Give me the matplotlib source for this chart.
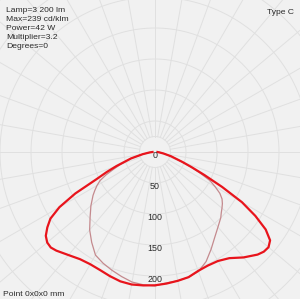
import numpy as np
import matplotlib
matplotlib.use("Agg")
import matplotlib.pyplot as plt

# ---- data (cd/klm) ----
angles = [0, 5, 10, 15, 20, 25, 30, 35, 40, 45, 47.5, 50, 52.5, 55, 57.5, 60, 62.5, 65, 67.5, 70, 75, 80, 85, 90]
c0_left = [215, 216, 217, 216, 213, 210, 209, 211, 217, 225, 228, 227, 222, 212, 200, 178, 145, 105, 84, 66, 40, 20, 9, 4]
c0_right = [213, 213, 211, 209, 204, 202, 203, 209, 222, 234, 238, 239, 234, 218, 192, 162, 122, 88, 64, 47, 27, 14, 7, 4]
c90_left = [216, 215, 213, 208, 203, 198, 192, 178, 164, 148, 141, 135, 128, 122, 115, 108, 100, 87, 72, 60, 40, 20, 9, 4]
c90_right = [213, 212, 211, 209, 205, 195, 181, 168, 158, 150, 145, 141, 137, 132, 124, 112, 100, 80, 62, 47, 27, 14, 7, 4]
ring_values = [0, 50, 100, 150, 200]
info_lines = ["Lamp=3 200 lm", "Max=239 cd/klm", "Power=42 W", "Multiplier=3.2", "Degrees=0"]

BG = "#f1f1f1"
GRID = "#e0e0e0"
TXT = "#2a2a2a"
FONT = "Liberation Sans"
W, H = 300, 299
DPI = 100
fig = plt.figure(figsize=(W / DPI, H / DPI), dpi=DPI, facecolor=BG)

cx, cy = 155, 152          # centre in px (from top)
scale = 0.62               # px per cd/klm
R = 220                    # px radius of polar axes
rmax = R / scale
ax = fig.add_axes([(cx - R) / W, (H - cy - R) / H, 2 * R / W, 2 * R / H], projection="polar")
ax.set_facecolor(BG)
ax.set_theta_zero_location("S")
ax.set_theta_direction(1)
ax.set_ylim(0, rmax)
ax.grid(False)
ax.set_xticks([])
ax.set_yticks([])
ax.spines["polar"].set_visible(False)

# grid
th = np.linspace(0, 2 * np.pi, 400)
for rv in [25, 50, 100, 150, 200, 250, 300, 350]:
    ax.plot(th, np.full_like(th, rv), color=GRID, lw=0.7, zorder=1)
for a in range(0, 360, 10):
    ax.plot([np.deg2rad(a)] * 2, [25, rmax], color=GRID, lw=0.7, zorder=1)

def full_curve(left, right):
    a = np.array(angles, dtype=float)
    t = np.concatenate([-a[::-1], a[1:]])
    r = np.concatenate([np.array(left)[::-1], np.array(right)[1:]])
    return np.deg2rad(t), r

t90, r90 = full_curve(c90_left, c90_right)
ax.plot(t90, r90, color="#c48a8e", lw=0.9, zorder=3)
t0, r0 = full_curve(c0_left, c0_right)
ax.plot(t0, r0, color="#e8141c", lw=1.6, zorder=4)

for v in ring_values:
    ax.text(0, v + 6, str(v), ha="center", va="center", fontsize=6.4,
            color=TXT, family=FONT, zorder=5)

for i, line in enumerate(info_lines):
    fig.text(6 / W, 1 - (11 + 8.8 * i) / H, line, ha="left", va="center", fontsize=6.1,
             color=TXT, family=FONT)
fig.text(294 / W, 1 - 13 / H, "Type C", ha="right", va="center", fontsize=6.1,
         color=TXT, family=FONT)
fig.text(3 / W, 1 - 295 / H, "Point 0x0x0 mm", ha="left", va="center", fontsize=6.1,
         color=TXT, family=FONT)

fig.savefig("out.png", dpi=DPI, facecolor=BG)
